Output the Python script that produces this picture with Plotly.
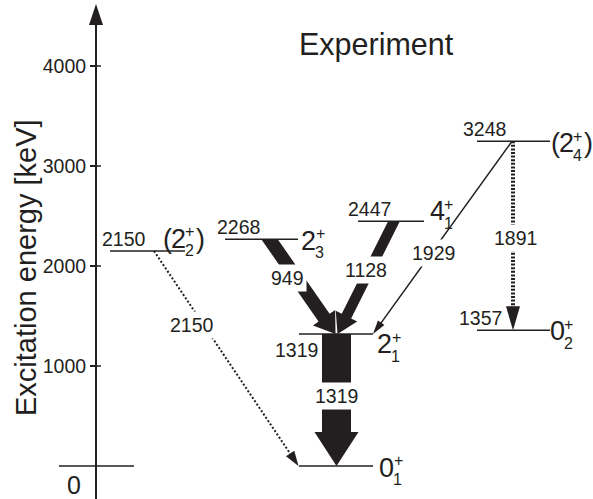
import math
import plotly.graph_objects as go

# ---------------- data ----------------
level_energy = [0, 1319, 1357, 2150, 2268, 2447, 3248]
level_label = ["", "1319", "1357", "2150", "2268", "2447", "3248"]
spin_value = ["0", "2", "0", "2", "2", "4", "2"]
spin_index = ["1", "1", "2", "2", "3", "1", "4"]
spin_parity = ["+", "+", "+", "+", "+", "+", "+"]
spin_tentative = [False, False, False, True, False, False, True]

gamma_from = [2268, 2447, 3248, 3248, 2150, 1319]
gamma_to = [1319, 1319, 1319, 1357, 0, 0]
gamma_label = ["949", "1128", "1929", "1891", "2150", "1319"]

tick_values = [1000, 2000, 3000, 4000]
tick_labels = ["1000", "2000", "3000", "4000"]

title_text = "Experiment"
yaxis_title = "Excitation energy [keV]"

# ---------------- layout / style ----------------
W, H = 593, 499
Y0 = 466.0          # pixel row of E = 0
K = 0.1             # pixels per keV
FONT = "Liberation Sans, Arial, sans-serif"
INK = "#231f20"
NUM = 19.5


def e2px(e):
    return Y0 - K * e


def px2e(y):
    return (Y0 - y) / K


LEVEL_X = {0: (299, 373), 1319: (299, 373), 1357: (477, 550), 2150: (110, 185),
           2268: (225, 298), 2447: (358, 424), 3248: (477, 550)}
ELABEL = {1319: (296, "below"), 1357: (480, "above"), 2150: (124, "above"),
          2268: (238, "above"), 2447: (369, "above"), 3248: (484, "above")}
SPIN_POS = {0: (386.5, -1.5), 1319: (384.5, -10), 1357: (557, -1), 2150: (178, 12.5),
            2268: (308.5, -1.3), 2447: (437, 10), 3248: (566, -2)}

GSTYLE = {
    "949": dict(kind="thick", xs=269.5, xe=335.5, w=13.5, hw=27, hl=20, lab=(287, 278)),
    "1128": dict(kind="thick", xs=394, xe=337.5, w=10.5, hw=24, hl=20, lab=(366, 270)),
    "1929": dict(kind="thin", xs=512, xe=373, lw=1.5, hw=8, hl=14, dash="solid", lab=(433, 253)),
    "1891": dict(kind="thin", xs=513, xe=513, lw=4, hw=14, hl=24, dash="2px,1.6px", lab=(515, 238)),
    "2150": dict(kind="thin", xs=154, xe=298.5, lw=2, hw=10, hl=15, dash="2px,2px", lab=(192, 325)),
    "1319": dict(kind="thick", xs=336.5, xe=336.5, w=29, hw=44, hl=34, lab=(336.5, 396)),
}

fig = go.Figure()


def add_poly(xs_, ys_px):
    fig.add_trace(go.Scatter(x=xs_ + [xs_[0]], y=[px2e(v) for v in ys_px] + [px2e(ys_px[0])],
                             mode="lines", fill="toself", fillcolor=INK,
                             line=dict(width=0, color=INK), hoverinfo="skip"))


def head_points(xe, ye, ux, uy, hw, hl):
    nx, ny = -uy, ux
    bx, by = xe - hl * ux, ye - hl * uy
    return (bx, by), (bx + nx * hw / 2, by + ny * hw / 2), (bx - nx * hw / 2, by - ny * hw / 2)


# ---- gamma transitions ----
for ef, et, lab in zip(gamma_from, gamma_to, gamma_label):
    s = GSTYLE[lab]
    xs, xe = s["xs"], s["xe"]
    ys, ye = e2px(ef), e2px(et)
    dx, dy = xe - xs, ye - ys
    L = math.hypot(dx, dy)
    ux, uy = dx / L, dy / L
    nx, ny = -uy, ux
    (bx, by), b1, b2 = head_points(xe, ye, ux, uy, s["hw"], s["hl"])
    if s["kind"] == "thick":
        w = s["w"]
        px, py = [], []
        for sg in (1, -1):
            ox, oy = sg * nx * w / 2, sg * ny * w / 2
            t = -oy / uy
            top = (xs + ox + t * ux, ys)
            base = (bx + ox, by + oy)
            if sg == 1:
                px += [top[0], base[0], b1[0], xe]
                py += [top[1], base[1], b1[1], ye]
            else:
                px += [b2[0], base[0], top[0]]
                py += [b2[1], base[1], top[1]]
        add_poly(px, py)
    else:
        fig.add_trace(go.Scatter(x=[xs, bx + ux * 2], y=[ef, px2e(by + uy * 2)], mode="lines",
                                 line=dict(color=INK, width=s["lw"], dash=s["dash"]),
                                 hoverinfo="skip"))
        add_poly([b1[0], xe, b2[0]], [b1[1], ye, b2[1]])
    lx, ly = s["lab"]
    fig.add_annotation(x=lx, y=px2e(ly), text=lab, showarrow=False, xanchor="center",
                       yanchor="middle", bgcolor="white", borderpad=2,
                       font=dict(family=FONT, size=NUM, color=INK))

# ---- levels ----
for e, el, sv, si, sp, tent in zip(level_energy, level_label, spin_value, spin_index,
                                   spin_parity, spin_tentative):
    x0, x1 = LEVEL_X[e]
    fig.add_trace(go.Scatter(x=[x0, x1], y=[e, e], mode="lines",
                             line=dict(color=INK, width=1.5), hoverinfo="skip"))
    if el:
        cx, where = ELABEL[e]
        fig.add_annotation(x=cx, y=e, text=el, showarrow=False, xanchor="center",
                           yanchor="bottom" if where == "above" else "top",
                           yshift=-1 if where == "above" else -3,
                           font=dict(family=FONT, size=NUM, color=INK))
    dc, yo = SPIN_POS[e]
    fig.add_annotation(x=dc, y=e, yshift=yo, text=sv, showarrow=False, xanchor="center",
                       yanchor="middle", font=dict(family=FONT, size=27, color=INK))
    fig.add_annotation(x=dc + 11.5, y=e, yshift=yo + 7, text=sp, showarrow=False,
                       xanchor="center", yanchor="middle",
                       font=dict(family=FONT, size=16, color=INK))
    fig.add_annotation(x=dc + 11, y=e, yshift=yo - 12, text=si, showarrow=False,
                       xanchor="center", yanchor="middle",
                       font=dict(family=FONT, size=16, color=INK))
    if tent:
        fig.add_annotation(x=dc - 11, y=e, yshift=yo, text="(", showarrow=False,
                           xanchor="center", yanchor="middle",
                           font=dict(family=FONT, size=27, color=INK))
        fig.add_annotation(x=dc + 22.5, y=e, yshift=yo, text=")", showarrow=False,
                           xanchor="center", yanchor="middle",
                           font=dict(family=FONT, size=27, color=INK))

# ---- energy axis decorations ----
AX = 96
fig.add_trace(go.Scatter(x=[AX, AX], y=[px2e(H), px2e(24)], mode="lines",
                         line=dict(color=INK, width=2), hoverinfo="skip"))
add_poly([AX - 7, AX, AX + 7], [25, 4, 25])
fig.add_trace(go.Scatter(x=[59, 134], y=[0, 0], mode="lines",
                         line=dict(color=INK, width=1.5), hoverinfo="skip"))
for tv in tick_values:
    fig.add_trace(go.Scatter(x=[AX, AX + 5], y=[tv, tv], mode="lines",
                             line=dict(color=INK, width=1.5), hoverinfo="skip"))
fig.add_annotation(x=73.5, y=px2e(485), text="0", showarrow=False, xanchor="center",
                   yanchor="middle", borderpad=0,
                   font=dict(family=FONT, size=25, color=INK))
fig.add_annotation(x=26, y=px2e(268), text=yaxis_title, textangle=-90, showarrow=False,
                   xanchor="center", yanchor="middle",
                   font=dict(family=FONT, size=29, color=INK))
fig.add_annotation(x=376, y=px2e(44), text=title_text, showarrow=False, xanchor="center",
                   yanchor="middle", font=dict(family=FONT, size=30.5, color=INK))

fig.update_layout(
    width=W, height=H, margin=dict(l=0, r=0, t=0, b=0),
    paper_bgcolor="white", plot_bgcolor="white", showlegend=False,
    xaxis=dict(range=[0, W], visible=False, fixedrange=True),
    yaxis=dict(range=[px2e(H), px2e(0)], anchor="free", position=AX / W,
               tickvals=tick_values, ticktext=tick_labels, ticks="outside", ticklen=6,
               tickwidth=1.5, tickcolor=INK, showgrid=False, zeroline=False,
               showline=False, fixedrange=True,
               tickfont=dict(family=FONT, size=NUM, color=INK)),
)

fig.write_html("out.html", config={"displayModeBar": False},
               post_script="document.body.style.margin='0';document.body.style.padding='0';"
                           "document.body.style.overflow='hidden';")
